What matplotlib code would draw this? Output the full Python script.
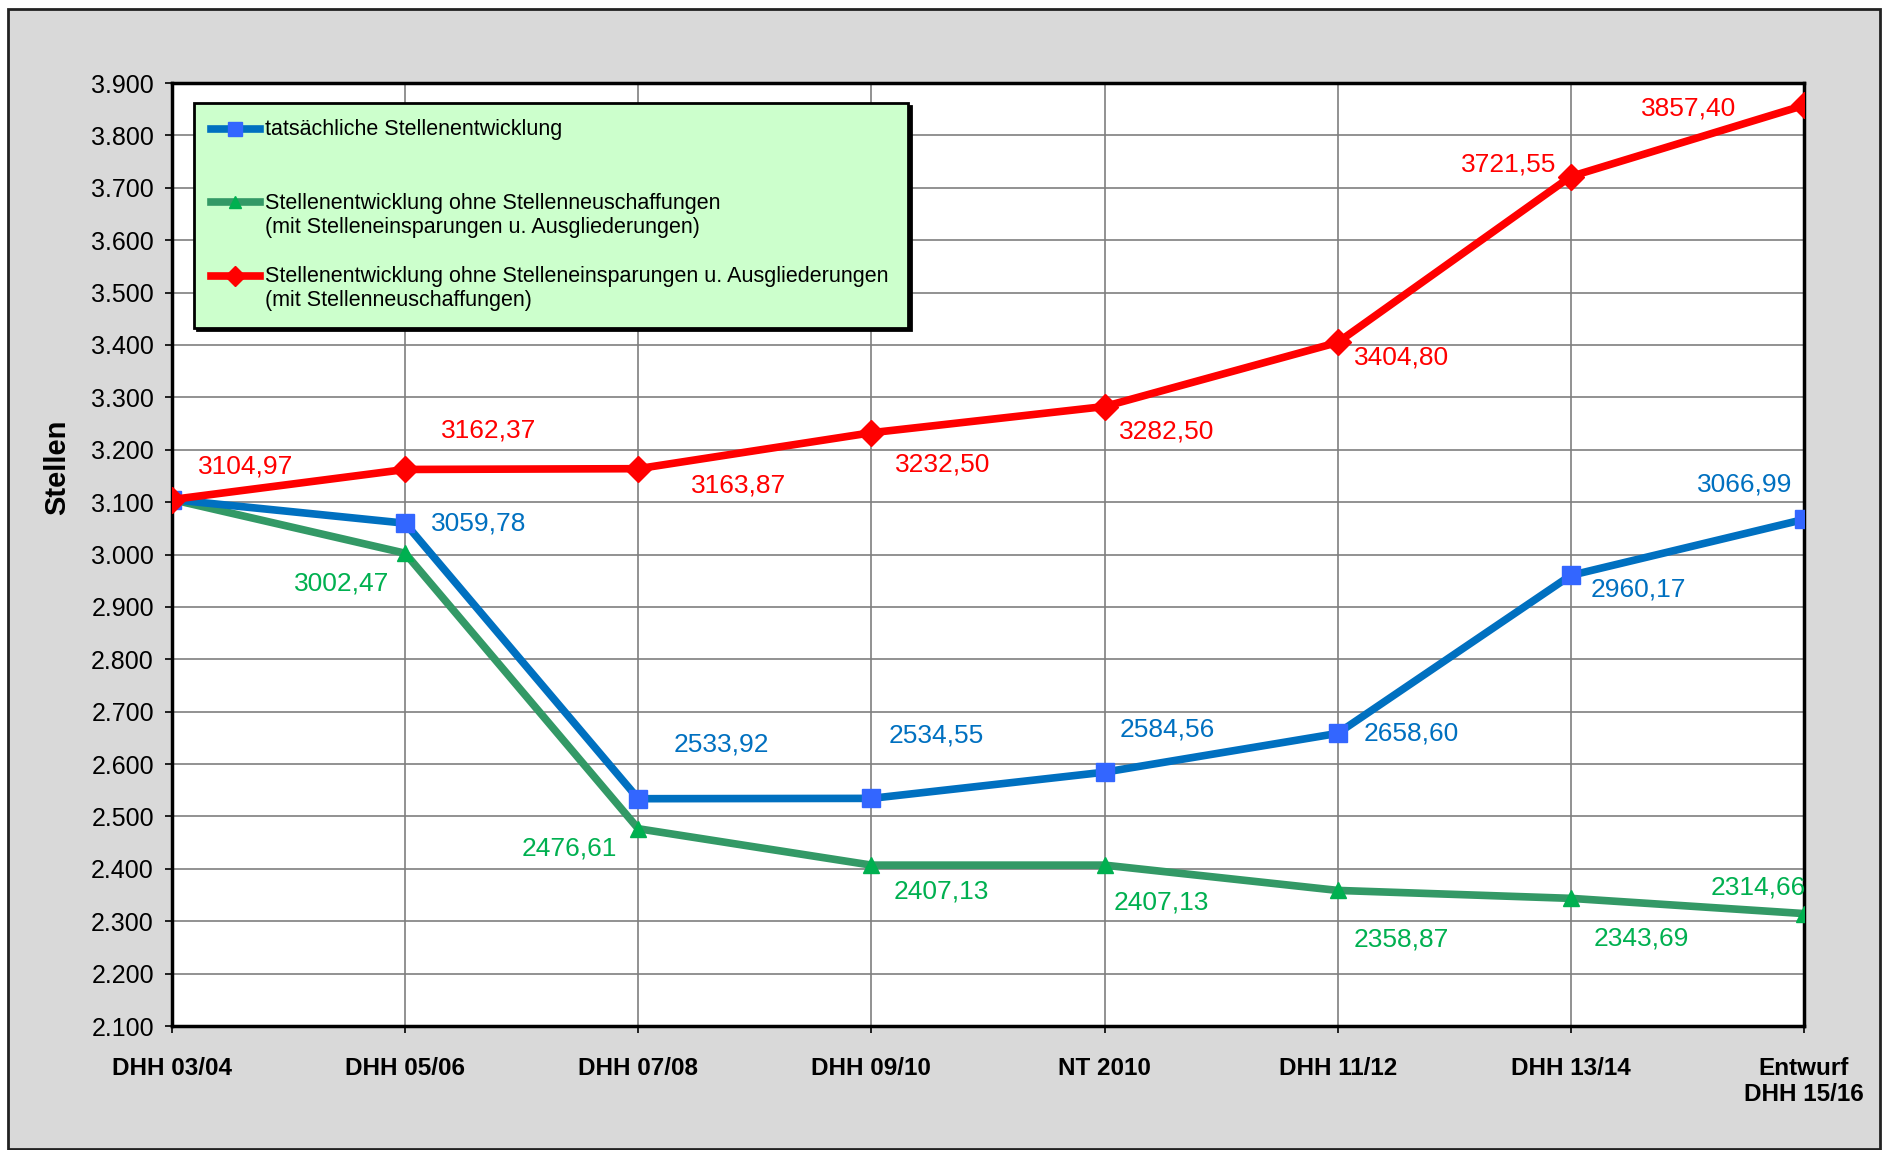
import numpy as np
import matplotlib.pyplot as plt
from matplotlib.patches import Rectangle
from matplotlib.legend_handler import HandlerLine2D
from matplotlib.ticker import FuncFormatter, MultipleLocator

plt.rcParams['font.family'] = ['Liberation Sans', 'DejaVu Sans']

# Daten
kategorien = ["DHH 03/04", "DHH 05/06", "DHH 07/08", "DHH 09/10", "NT 2010",
              "DHH 11/12", "DHH 13/14", "Entwurf\nDHH 15/16"]
tatsaechlich = [3104.97, 3059.78, 2533.92, 2534.55, 2584.56, 2658.60, 2960.17, 3066.99]
ohne_neu = [3104.97, 3002.47, 2476.61, 2407.13, 2407.13, 2358.87, 2343.69, 2314.66]
ohne_einsp = [3104.97, 3162.37, 3163.87, 3232.50, 3282.50, 3404.80, 3721.55, 3857.40]

leg_labels = [
    "tatsächliche Stellenentwicklung\n ",
    "Stellenentwicklung ohne Stellenneuschaffungen\n(mit Stelleneinsparungen u. Ausgliederungen)",
    "Stellenentwicklung ohne Stelleneinsparungen u. Ausgliederungen\n(mit Stellenneuschaffungen)",
]

# Beschriftungs-Offsets (Punkte) je Datenpunkt, None = keine Beschriftung
off_blau = [None, (53, 0), (60, 39), (47, 45), (45, 31), (53, 0), (49, -10), (-43, 25)]
off_gruen = [None, (-46, -22), (-50, -14), (50, -19), (41, -27), (46, -35), (51, -29), (-33, 19)]
off_rot = [(53, 24), (60, 28), (72, -12), (51, -23), (45, -18), (46, -11), (-45, 9), (-83, -2)]

BLAU, BLAU_M = "#0070C0", "#3366FF"
GRUEN, GRUEN_M, GRUEN_T = "#339966", "#00B050", "#00B050"
ROT = "#FF0000"


class ErsteZeile(HandlerLine2D):
    """Legendensymbol auf Hoehe der ersten Textzeile."""

    def __init__(self, dy=0.62, **kw):
        super().__init__(**kw)
        self.dy = dy

    def create_artists(self, legend, orig_handle, xdescent, ydescent, width,
                       height, fontsize, trans):
        arts = super().create_artists(legend, orig_handle, xdescent, ydescent,
                                      width, height, fontsize, trans)
        for a in arts:
            a.set_ydata(np.asarray(a.get_ydata()) + self.dy * fontsize)
        return arts


fig = plt.figure(figsize=(18.82, 11.50), dpi=100)
fig.patches.append(Rectangle((8 / 1882, 1 - 1149 / 1150), 1872 / 1882, 1140 / 1150,
                             transform=fig.transFigure, facecolor="#D9D9D9",
                             edgecolor="#222222", linewidth=2, zorder=-10))
ax = fig.add_axes([0.0914, 0.1078, 0.8671, 0.82])
ax.set_facecolor("white")

x = list(range(len(kategorien)))
l1, = ax.plot(x, tatsaechlich, color=BLAU, lw=5.5, marker="s", ms=13,
              markerfacecolor=BLAU_M, markeredgecolor=BLAU_M, label=leg_labels[0], zorder=4)
l2, = ax.plot(x, ohne_neu, color=GRUEN, lw=5.5, marker="^", ms=12,
              markerfacecolor=GRUEN_M, markeredgecolor=GRUEN_M, label=leg_labels[1], zorder=3)
l3, = ax.plot(x, ohne_einsp, color=ROT, lw=5.5, marker="D", ms=13,
              markerfacecolor=ROT, markeredgecolor=ROT, label=leg_labels[2], zorder=5)


def fmt(v):
    return f"{v:.2f}".replace(".", ",")


for werte, offs, farbe in [(tatsaechlich, off_blau, BLAU), (ohne_neu, off_gruen, GRUEN_T),
                           (ohne_einsp, off_rot, ROT)]:
    for i, (v, o) in enumerate(zip(werte, offs)):
        if o is None:
            continue
        ax.annotate(fmt(v), (i, v), xytext=o, textcoords="offset points",
                    ha="center", va="center", color=farbe, fontsize=19, zorder=6)

ax.set_xlim(0, len(kategorien) - 1)
ax.set_ylim(2100, 3900)
ax.yaxis.set_major_locator(MultipleLocator(100))
ax.yaxis.set_major_formatter(FuncFormatter(lambda v, p: f"{int(v):,}".replace(",", ".")))
ax.set_xticks(x)
ax.set_xticklabels(kategorien, fontweight="bold", fontsize=17.5)
ax.tick_params(axis="y", labelsize=18, length=5, width=1.2, pad=8)
ax.tick_params(axis="x", length=5, width=1.2, pad=17)
ax.grid(True, color="#7F7F7F", linewidth=1.2, zorder=0)
ax.set_axisbelow(True)
for s in ax.spines.values():
    s.set_linewidth(2.5)
    s.set_color("black")

ax.set_ylabel("Stellen", fontweight="bold", fontsize=21)
ax.yaxis.set_label_coords(-0.062, 0.592)

hm = {l: ErsteZeile() for l in (l1, l2, l3)}
leg = ax.legend(handles=[l1, l2, l3], handler_map=hm,
                loc="upper left", bbox_to_anchor=(0.0137, 0.979, 0.4375, 0.0),
                mode="expand", borderaxespad=0, fontsize=15.5, frameon=True, fancybox=False,
                facecolor="#CCFFCC", edgecolor="black", framealpha=1,
                shadow={"color": "black", "alpha": 1}, labelspacing=1.32,
                handlelength=2.3, handletextpad=0.25, borderpad=0.75, markerscale=0.75)
leg.get_frame().set_linewidth(2)

fig.savefig("out.png", dpi=100)
